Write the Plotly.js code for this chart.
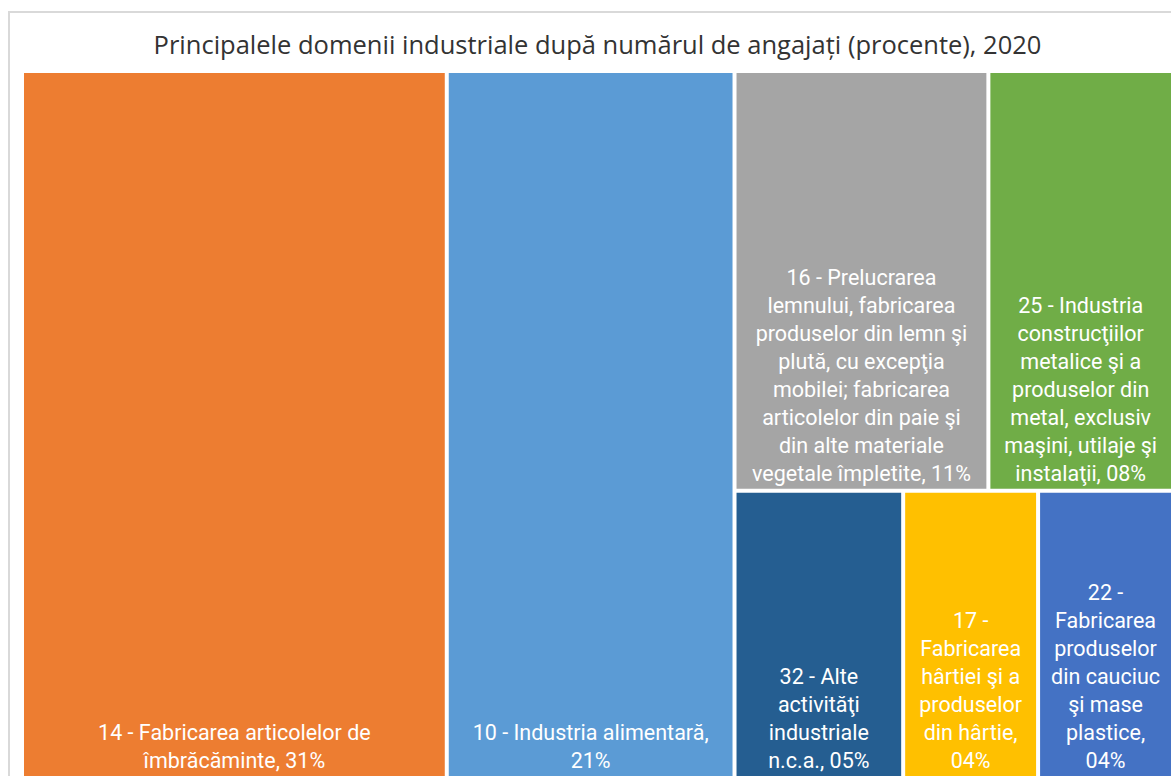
<!DOCTYPE html>
<html>
<head>
<meta charset="utf-8">
<script src="https://cdn.plot.ly/plotly-3.0.1.min.js"></script>
<style>
  html, body { margin: 0; padding: 0; background: #ffffff; overflow: hidden; }
  #frame {
    position: absolute; left: 8px; top: 11px;
    width: 1200px; height: 800px;
    border-left: 2px solid #d9d9d9; border-top: 2px solid #d9d9d9;
  }
  #chart { position: absolute; left: 0; top: 0; width: 1171px; height: 776px; }
</style>
</head>
<body>
<div id="frame"></div>
<div id="chart"></div>
<script>
// Industrial domains by share of employees, 2020 (percent)
const domains = [
  '14 - Fabricarea articolelor de<br>îmbrăcăminte',
  '10 - Industria alimentară',
  '16 - Prelucrarea<br>lemnului, fabricarea<br>produselor din lemn şi<br>plută, cu excepţia<br>mobilei; fabricarea<br>articolelor din paie şi<br>din alte materiale<br>vegetale împletite',
  '25 - Industria<br>construcţiilor<br>metalice şi a<br>produselor din<br>metal, exclusiv<br>maşini, utilaje şi<br>instalaţii',
  '32 - Alte<br>activităţi<br>industriale<br>n.c.a.',
  '17 -<br>Fabricarea<br>hârtiei şi a<br>produselor<br>din hârtie',
  '22 -<br>Fabricarea<br>produselor<br>din cauciuc<br>şi mase<br>plastice'
];
const shares = [31, 21, 11, 8, 5, 4, 4];
const pctOnOwnLine = [false, true, false, false, false, true, true];
const colours = ['#ED7D31', '#5B9BD5', '#A5A5A5', '#70AD47', '#255E91', '#FFC000', '#4472C4'];

// Grouping of the smaller domains into rows
const groups = ['Alte domenii', 'Rândul de sus', 'Rândul de jos'];
const groupParents = ['', 'Alte domenii', 'Alte domenii'];
const domainParents = ['', '', 'Rândul de sus', 'Rândul de sus', 'Rândul de jos', 'Rândul de jos', 'Rândul de jos'];

const pad2 = v => (v < 10 ? '0' : '') + v;
const domainText = domains.map((d, i) =>
  d + ',' + (pctOnOwnLine[i] ? '<br>' : ' ') + pad2(shares[i]) + '%');

const ids = domains.map(d => d.replace(/<br>/g, ' ')).concat(groups);
const parents = domainParents.concat(groupParents);
const values = shares.concat(groups.map(() => 0));
const text = domainText.concat(groups.map(() => ''));
const colors = colours.concat(groups.map(() => '#ffffff'));

const trace = {
  type: 'treemap',
  ids: ids,
  labels: ids,
  parents: parents,
  values: values,
  branchvalues: 'remainder',
  sort: false,
  text: text,
  textinfo: 'text',
  textposition: 'bottom center',
  textfont: { family: 'Roboto', size: 21.5, color: '#ffffff' },
  marker: {
    colors: colors,
    line: { width: 0, color: '#ffffff' },
    pad: { t: 0, l: 0, r: 0, b: 0 }
  },
  tiling: { packing: 'slice-dice', pad: 4 },
  pathbar: { visible: false },
  hoverinfo: 'skip'
};

const layout = {
  width: 1171,
  height: 776,
  margin: { l: 24, r: 0, t: 73, b: 0 },
  paper_bgcolor: 'rgba(0,0,0,0)',
  title: {
    text: 'Principalele domenii industriale după numărul de angajați (procente), 2020',
    font: { family: 'Open Sans', size: 25.5, color: '#333333' },
    x: 0.5, xref: 'paper', xanchor: 'center',
    y: 1 - 45 / 776, yref: 'container', yanchor: 'middle'
  }
};

Plotly.newPlot('chart', [trace], layout, { displayModeBar: false, staticPlot: true });
</script>
</body>
</html>
